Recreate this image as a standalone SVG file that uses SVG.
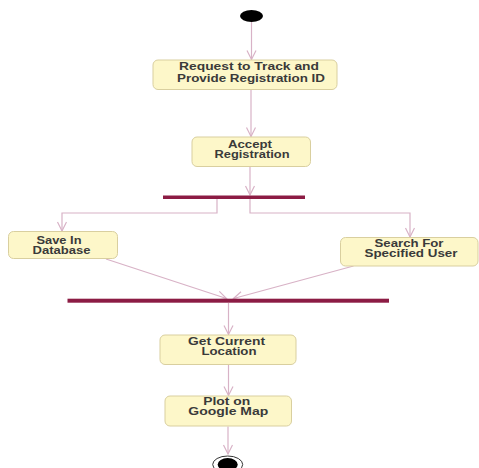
<svg xmlns="http://www.w3.org/2000/svg" width="479" height="468" viewBox="0 0 479 468">
<defs>
<style>
.box{fill:#fdf7c9;stroke:#d9cf9f;stroke-width:1}
.lbl{font-family:"Liberation Sans",Arial,sans-serif;font-size:10px;font-weight:bold;fill:#3a3a3a;text-anchor:middle}
.ln{fill:none;stroke:#d8b2c6;stroke-width:1.2}
.bar{fill:#8c1c44}
</style>
<marker id="arr" markerWidth="12" markerHeight="12" refX="10" refY="5" orient="auto" markerUnits="userSpaceOnUse">
<path d="M1,0.5 L10,5 L1,9.5" fill="none" stroke="#d8b2c6" stroke-width="1.2"/>
</marker>
</defs>
<rect width="479" height="468" fill="#ffffff"/>
<g id="connectors">
<line class="ln" x1="251.5" y1="21" x2="251.5" y2="59.5" marker-end="url(#arr)"/>
<line class="ln" x1="251" y1="89.5" x2="251" y2="136.5" marker-end="url(#arr)"/>
<line class="ln" x1="250" y1="167" x2="250" y2="195" marker-end="url(#arr)"/>
<polyline class="ln" points="217,199 217,213 62,213 62,231" marker-end="url(#arr)"/>
<polyline class="ln" points="250,199 250,213 410,213 410,237" marker-end="url(#arr)"/>
<line class="ln" x1="106" y1="259" x2="226.5" y2="298.5" marker-end="url(#arr)"/>
<line class="ln" x1="353.5" y1="266" x2="233.5" y2="298.5" marker-end="url(#arr)"/>
<line class="ln" x1="228.5" y1="303" x2="228.5" y2="334.5" marker-end="url(#arr)"/>
<line class="ln" x1="228.5" y1="364.5" x2="228.5" y2="395.5" marker-end="url(#arr)"/>
<line class="ln" x1="228" y1="426.5" x2="228" y2="454" marker-end="url(#arr)"/>
</g>
<g id="start">
<ellipse cx="251.5" cy="16" rx="11.5" ry="6" fill="#000"/>
</g>
<g id="request">
<rect class="box" x="153" y="60" width="184" height="29.5" rx="5"/>
<text class="lbl" x="249" y="70" textLength="140" lengthAdjust="spacingAndGlyphs">Request to Track and</text>
<text class="lbl" x="251" y="81.5" textLength="148" lengthAdjust="spacingAndGlyphs">Provide Registration ID</text>
</g>
<g id="accept">
<rect class="box" x="192" y="137" width="118.5" height="29.5" rx="5"/>
<text class="lbl" x="250" y="147.5" textLength="44" lengthAdjust="spacingAndGlyphs">Accept</text>
<text class="lbl" x="252" y="157.5" textLength="75" lengthAdjust="spacingAndGlyphs">Registration</text>
</g>
<g id="fork">
<rect class="bar" x="163" y="195.5" width="142" height="3.5"/>
</g>
<g id="save">
<rect class="box" x="8.5" y="231.5" width="109" height="27" rx="5"/>
<text class="lbl" x="59" y="243.5" textLength="45" lengthAdjust="spacingAndGlyphs">Save In</text>
<text class="lbl" x="61.5" y="253.5" textLength="58" lengthAdjust="spacingAndGlyphs">Database</text>
</g>
<g id="search">
<rect class="box" x="340.5" y="237.5" width="137.5" height="28.5" rx="5"/>
<text class="lbl" x="409" y="247" textLength="69" lengthAdjust="spacingAndGlyphs">Search For</text>
<text class="lbl" x="411" y="257" textLength="93" lengthAdjust="spacingAndGlyphs">Specified User</text>
</g>
<g id="join">
<rect class="bar" x="67.5" y="298.7" width="321.5" height="4"/>
</g>
<g id="location">
<rect class="box" x="160" y="335" width="136" height="29.5" rx="5"/>
<text class="lbl" x="226.5" y="344.5" textLength="77" lengthAdjust="spacingAndGlyphs">Get Current</text>
<text class="lbl" x="229" y="354.5" textLength="55" lengthAdjust="spacingAndGlyphs">Location</text>
</g>
<g id="plot">
<rect class="box" x="165" y="396" width="126.5" height="30" rx="5"/>
<text class="lbl" x="226.7" y="405" textLength="47" lengthAdjust="spacingAndGlyphs">Plot on</text>
<text class="lbl" x="228.3" y="415.3" textLength="80" lengthAdjust="spacingAndGlyphs">Google Map</text>
</g>
<g id="end">
<ellipse cx="227.7" cy="464.5" rx="15" ry="8.5" fill="#fff" stroke="#333" stroke-width="1"/>
<ellipse cx="227.7" cy="464.5" rx="10" ry="6.5" fill="#000"/>
</g>
</svg>
